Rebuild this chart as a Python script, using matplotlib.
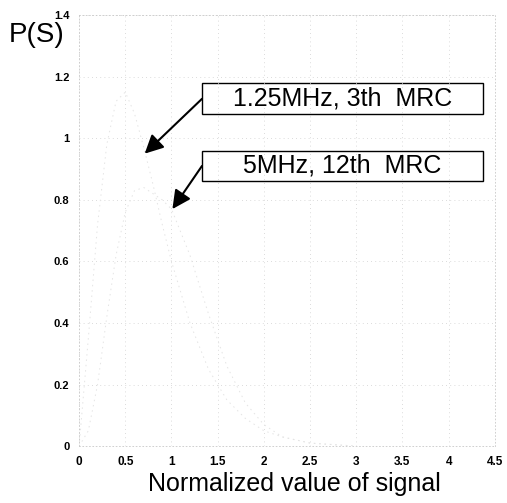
import matplotlib
matplotlib.use("Agg")
import matplotlib.pyplot as plt
from matplotlib.patches import Rectangle

plt.rcParams['font.family'] = ['Liberation Sans', 'DejaVu Sans']

# values read (estimated) from the faint scanned curves
sig = [0, 0.1, 0.2, 0.3, 0.4, 0.5, 0.6, 0.7, 0.8, 0.9, 1.0, 1.2, 1.4, 1.6, 1.8, 2.0, 2.2, 2.5, 3.0]
p_3th = [0, 0.35, 0.72, 0.98, 1.12, 1.15, 1.08, 0.97, 0.85, 0.72, 0.6, 0.4, 0.25, 0.15, 0.09, 0.05, 0.03, 0.01, 0]
p_12th = [0, 0.05, 0.2, 0.42, 0.62, 0.76, 0.83, 0.84, 0.82, 0.8, 0.77, 0.62, 0.43, 0.26, 0.14, 0.07, 0.03, 0.01, 0]

xticks = [0, 0.5, 1, 1.5, 2, 2.5, 3, 3.5, 4, 4.5]
yticks = [0, 0.2, 0.4, 0.6, 0.8, 1, 1.2, 1.4]

fig = plt.figure(figsize=(5.07, 5.03), dpi=100)
ax = fig.add_axes([0.156, 0.113, 0.82, 0.857])

ax.plot(sig, p_3th, color="#e4e4e4", lw=0.7, ls=(0, (1.5, 4)))
ax.plot(sig, p_12th, color="#e4e4e4", lw=0.7, ls=(0, (1.5, 4)))

ax.set_xlim(0, 4.5)
ax.set_ylim(0, 1.4)
ax.set_xticks(xticks)
ax.set_yticks(yticks)
ax.set_xticklabels(["%g" % t for t in xticks], fontsize=8.5, fontweight="bold")
ax.set_yticklabels(["%g" % t for t in yticks], fontsize=8, fontweight="bold")
ax.tick_params(axis="x", length=0, pad=7)
ax.tick_params(axis="y", length=0, pad=7)
ax.grid(color="#cfcfcf", ls=(0, (1, 4)), lw=0.6)
for s in ax.spines.values():
    s.set_color("#c8c8c8")
    s.set_linestyle((0, (1, 3)))
    s.set_linewidth(0.6)

ax.set_xlabel("Normalized value of signal", fontsize=18, labelpad=3)
ax.xaxis.label.set_x(0.518)
fig.text(0.018, 0.956, "P(S)", fontsize=20, va="top", ha="left")

# boxed annotations
boxes = [(1.33, 1.078, "1.25MHz, 3th  MRC", (0.71, 0.95)),
         (1.33, 0.860, "5MHz, 12th  MRC", (1.01, 0.77))]
for x0, y0, txt, tip in boxes:
    ax.add_patch(Rectangle((x0, y0), 3.04, 0.1, fill=False, ec="black", lw=1.0))
    ax.text(x0 + 1.52, y0 + 0.05, txt, ha="center", va="center", fontsize=18)
    ax.annotate("", xy=tip, xytext=(x0, y0 + 0.05),
                arrowprops=dict(arrowstyle="-|>", color="black", lw=1.5,
                                mutation_scale=28, shrinkA=0, shrinkB=0))

plt.savefig("out.png", dpi=100)
